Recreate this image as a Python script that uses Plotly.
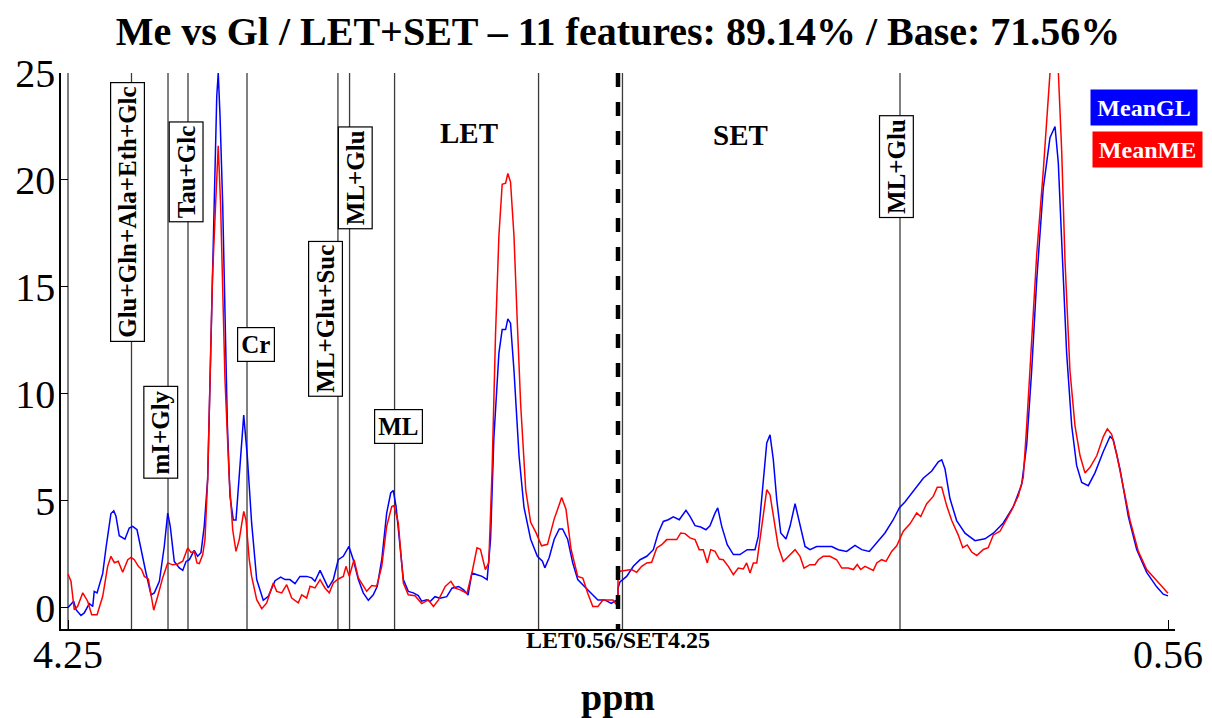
import plotly.graph_objects as go

# ---------------- data ----------------
PPM_START, PPM_END = 4.25, 0.56

LET_PPM_GL = [4.250, 4.212, 4.196, 4.163, 4.141, 4.107, 4.084, 4.074, 4.055, 4.017, 3.995, 3.962, 3.943, 3.928,
              3.906, 3.868, 3.839, 3.816, 3.787, 3.760, 3.727, 3.693, 3.671, 3.637, 3.604, 3.581, 3.564, 3.537,
              3.503, 3.480, 3.458, 3.436, 3.403, 3.380, 3.358, 3.336, 3.313, 3.297, 3.275, 3.252, 3.242, 3.230,
              3.212, 3.197, 3.181, 3.163, 3.141, 3.123, 3.101, 3.071, 3.047, 3.018, 2.984, 2.940, 2.906, 2.861,
              2.823, 2.794, 2.761, 2.727, 2.694, 2.649, 2.615, 2.593, 2.559, 2.537, 2.504, 2.470, 2.437, 2.403,
              2.365, 2.336, 2.302, 2.269, 2.235, 2.202, 2.175, 2.145, 2.112, 2.085, 2.068, 2.049, 2.027, 2.000,
              1.967, 1.933, 1.900, 1.877, 1.843, 1.821, 1.788, 1.754, 1.709, 1.674, 1.629, 1.596, 1.566, 1.540,
              1.506, 1.472, 1.438, 1.415, 1.393, 1.359, 1.337, 1.314, 1.299, 1.281, 1.258, 1.224, 1.191, 1.146,
              1.101, 1.067, 1.051, 1.022, 0.988, 0.954, 0.932, 0.898, 0.864, 0.830, 0.785, 0.740, 0.695, 0.650,
              0.605, 0.571, 0.560]
LET_GL = [0.00, 0.30, -0.10, -0.37, -0.25, 0.19, 0.06, 0.76, 0.69, 1.60, 2.80, 4.40, 4.53, 4.27,
          3.36, 3.20, 3.72, 3.80, 3.64, 2.70, 1.63, 0.60, 0.69, 1.23, 2.87, 4.42, 3.80, 2.16,
          1.86, 1.74, 2.16, 2.24, 2.68, 2.40, 2.57, 3.80, 6.00, 10.60, 17.00, 23.90, 25.00, 23.00,
          18.80, 13.70, 8.60, 5.20, 4.10, 4.10, 6.00, 9.00, 7.07, 3.96, 1.31, 0.34, 0.53, 1.26,
          1.43, 1.31, 1.31, 1.12, 1.46, 1.46, 1.39, 1.23, 1.74, 1.39, 0.92, 1.31, 2.24, 2.40,
          2.86, 2.24, 1.31, 0.69, 0.34, 0.60, 1.00, 2.24, 4.42, 5.36, 5.48, 4.73, 3.18, 1.31,
          0.76, 0.69, 0.56, 0.30, 0.37, 0.28, 0.51, 0.44, 0.51, 0.91, 0.99, 0.83, 0.59, 1.62,
          1.54, 1.46, 1.31, 3.20, 7.90, 11.90, 13.00, 13.00, 13.50, 13.30, 11.10, 7.10, 4.70, 3.20,
          2.40, 2.17, 1.86, 2.33, 3.20, 3.68, 3.68, 3.20, 2.09, 1.31, 0.99, 0.67, 0.36, 0.36,
          0.20, 0.35, -0.05]

LET_PPM_ME = [4.250, 4.230, 4.208, 4.185, 4.151, 4.118, 4.091, 4.055, 4.017, 3.984, 3.962, 3.939, 3.913, 3.883,
              3.849, 3.827, 3.805, 3.778, 3.756, 3.738, 3.711, 3.693, 3.675, 3.648, 3.615, 3.581, 3.548, 3.514,
              3.480, 3.447, 3.425, 3.403, 3.385, 3.369, 3.346, 3.331, 3.313, 3.297, 3.281, 3.260, 3.242, 3.226,
              3.197, 3.168, 3.145, 3.123, 3.101, 3.071, 3.056, 3.034, 3.018, 2.984, 2.950, 2.917, 2.873, 2.850,
              2.816, 2.783, 2.749, 2.705, 2.682, 2.649, 2.626, 2.593, 2.559, 2.526, 2.497, 2.470, 2.437, 2.403,
              2.385, 2.363, 2.331, 2.302, 2.269, 2.246, 2.212, 2.179, 2.145, 2.112, 2.078, 2.063, 2.034, 2.000,
              1.967, 1.922, 1.877, 1.832, 1.798, 1.764, 1.719, 1.681, 1.652, 1.618, 1.573, 1.540, 1.506, 1.483,
              1.450, 1.427, 1.405, 1.382, 1.359, 1.337, 1.314, 1.299, 1.281, 1.258, 1.236, 1.213, 1.179, 1.146,
              1.111, 1.073, 1.033, 0.988, 0.965, 0.938, 0.909, 0.875, 0.830, 0.796, 0.763, 0.729, 0.695, 0.661,
              0.628, 0.594, 0.560]
LET_ME = [1.57, 1.23, -0.10, 0.06, 0.69, 0.30, -0.33, -0.33, 0.53, 1.93, 2.40, 2.10, 2.17, 1.65,
          2.24, 2.35, 2.24, 1.93, 1.78, 1.46, 1.34, 0.69, -0.12, 0.53, 1.39, 2.09, 2.00, 2.04,
          2.17, 2.79, 2.58, 2.63, 2.09, 2.06, 2.48, 3.18, 6.00, 10.70, 15.40, 18.80, 21.60, 18.80,
          10.70, 6.00, 3.64, 2.63, 3.18, 4.50, 4.10, 2.24, 1.46, 0.37, -0.05, 0.22, 1.15, 0.76,
          0.69, 1.07, 0.45, 0.22, 0.60, 0.45, 1.00, 0.92, 1.31, 0.92, 0.69, 1.15, 1.34, 1.46,
          1.93, 1.46, 2.24, 1.39, 1.00, 0.76, 1.03, 1.00, 1.93, 3.80, 4.73, 4.77, 3.96, 1.15,
          0.60, 0.56, 0.19, 0.36, 0.05, 0.36, 0.99, 1.23, 0.91, 0.83, 0.67, 1.62, 2.80, 2.73,
          1.78, 2.09, 6.36, 12.70, 17.40, 19.80, 19.85, 20.30, 19.90, 17.40, 13.40, 9.50, 5.50, 3.99,
          3.52, 2.89, 2.96, 4.15, 4.60, 5.15, 4.60, 2.73, 1.46, 1.38, 0.67, 0.05, 0.05, 0.36,
          0.36, 0.36, 0.05]

SET_PPM_GL = [4.250, 4.237, 4.192, 4.147, 4.102, 4.057, 4.013, 3.980, 3.946, 3.913, 3.879, 3.839, 3.794, 3.767,
              3.733, 3.695, 3.660, 3.633, 3.599, 3.581, 3.554, 3.517, 3.476, 3.432, 3.383, 3.331, 3.309, 3.279,
              3.252, 3.230, 3.208, 3.185, 3.158, 3.123, 3.096, 3.062, 3.029, 2.995, 2.962, 2.917, 2.873, 2.816,
              2.772, 2.716, 2.660, 2.615, 2.564, 2.514, 2.459, 2.403, 2.363, 2.325, 2.269, 2.202, 2.145, 2.101,
              2.078, 2.056, 2.023, 1.978, 1.922, 1.855, 1.788, 1.732, 1.665, 1.598, 1.542, 1.508, 1.475, 1.441,
              1.397, 1.352, 1.318, 1.296, 1.273, 1.240, 1.206, 1.173, 1.139, 1.095, 1.050, 0.994, 0.949, 0.927,
              0.882, 0.826, 0.770, 0.703, 0.636, 0.592, 0.560]
SET_GL = [0.90, 1.20, 1.46, 1.93, 2.24, 2.40, 2.71, 3.49, 4.03, 4.11, 4.24, 4.11, 4.55, 4.27,
          3.83, 3.77, 3.64, 3.83, 4.42, 4.66, 3.80, 2.94, 2.48, 2.48, 2.71, 2.71, 3.33, 5.83,
          7.70, 8.08, 6.92, 5.05, 3.49, 3.21, 3.80, 4.86, 3.80, 2.86, 2.71, 2.86, 2.86, 2.86,
          2.71, 2.63, 2.91, 2.71, 2.63, 3.02, 3.49, 4.11, 4.66, 4.94, 5.45, 6.05, 6.39, 6.82,
          6.91, 6.48, 5.10, 4.07, 3.48, 3.13, 3.22, 3.48, 3.96, 4.72, 5.74, 7.62, 11.04, 15.30,
          19.60, 21.97, 22.50, 20.80, 17.10, 11.90, 8.50, 6.65, 5.85, 5.70, 6.30, 7.30, 8.00, 7.85,
          6.48, 4.26, 2.72, 1.65, 0.97, 0.63, 0.55]

SET_PPM_ME = [4.250, 4.237, 4.192, 4.158, 4.125, 4.091, 4.057, 4.024, 3.990, 3.957, 3.923, 3.890, 3.856, 3.829,
              3.800, 3.767, 3.733, 3.705, 3.678, 3.651, 3.628, 3.599, 3.570, 3.544, 3.510, 3.476, 3.443, 3.409,
              3.387, 3.364, 3.342, 3.319, 3.286, 3.252, 3.230, 3.208, 3.175, 3.141, 3.107, 3.062, 3.029, 3.002,
              2.962, 2.928, 2.906, 2.873, 2.828, 2.783, 2.749, 2.705, 2.671, 2.645, 2.622, 2.593, 2.537, 2.514,
              2.481, 2.452, 2.414, 2.380, 2.336, 2.291, 2.246, 2.219, 2.179, 2.135, 2.108, 2.078, 2.045, 2.011,
              1.967, 1.937, 1.907, 1.877, 1.843, 1.799, 1.766, 1.732, 1.687, 1.654, 1.609, 1.564, 1.531, 1.508,
              1.475, 1.441, 1.397, 1.363, 1.332, 1.296, 1.273, 1.251, 1.218, 1.184, 1.150, 1.117, 1.083, 1.038,
              0.994, 0.967, 0.938, 0.904, 0.860, 0.815, 0.759, 0.703, 0.647, 0.602, 0.560]
SET_ME = [1.50, 1.70, 1.74, 1.78, 1.65, 1.93, 2.09, 2.12, 2.79, 2.94, 3.18, 3.18, 3.18, 3.49,
          3.46, 3.26, 3.18, 2.71, 2.71, 2.09, 2.71, 2.63, 2.27, 2.24, 1.93, 1.54, 1.85, 1.81,
          2.09, 1.62, 2.09, 2.09, 3.80, 5.51, 5.28, 4.27, 2.86, 2.16, 2.40, 2.71, 2.40, 1.85,
          2.01, 2.01, 2.24, 2.40, 2.40, 2.24, 1.85, 1.85, 1.78, 2.01, 1.78, 1.93, 1.74, 2.09,
          2.24, 2.16, 2.63, 2.89, 3.57, 3.92, 4.43, 4.26, 4.86, 5.20, 5.63, 5.63, 4.77, 4.07,
          3.39, 2.80, 2.93, 2.60, 2.44, 2.72, 2.80, 3.40, 3.57, 3.96, 4.56, 5.23, 6.09, 8.50,
          12.75, 16.50, 20.40, 23.80, 27.00, 25.10, 21.30, 16.20, 11.10, 8.50, 7.10, 6.30, 6.56, 7.10,
          8.00, 8.36, 8.10, 7.16, 5.63, 4.09, 2.63, 1.78, 1.35, 1.01, 0.67]

FEATURE_SECTION = ["LET", "LET", "LET", "LET", "LET", "LET", "LET", "LET", "LET", "SET", "SET"]
FEATURE_PPM = [4.25, 3.824, 3.579, 3.445, 3.049, 2.439, 2.361, 2.059, 1.093, 4.220, 2.358]
FEATURE_LABEL = ["", "Glu+Gln+Ala+Eth+Glc", "mI+Gly", "Tau+Glc", "Cr", "ML+Glu+Suc", "ML+Glu", "ML", "", "", "ML+Glu"]

SERIES_NAMES = ["MeanGL", "MeanME"]
SERIES_COLORS = ["#0000FF", "#FF0000"]

TITLE = "Me vs Gl / LET+SET \u2013 11 features: 89.14% / Base: 71.56%"
X_TICK_TEXT = ["4.25", "LET0.56/SET4.25", "0.56"]
Y_TICKS = [0, 5, 10, 15, 20, 25]

# ---------------- styling / layout parameters ----------------
# label placement: (y centre in data units, x shift px, rotated?)
LABEL_STYLE = {
    "Glu+Gln+Ala+Eth+Glc": (18.5, -4.5, True),
    "mI+Gly": (8.2, -7.5, True),
    "Tau+Glc": (20.4, -2, True),
    "Cr": (12.3, 9, False),
    "ML+Glu+Suc": (13.5, -12, True),
    "ML+Glu": (20.1, 6, True),
    "ML": (8.45, 3.5, False),
}
SET_LABEL_STYLE = {"ML+Glu": (20.6, -4, True)}

FONT = "Liberation Serif, Times New Roman, serif"
SPAN = PPM_START - PPM_END

# page geometry (the html body adds an 8px margin around the figure)
W, H = 1212, 718
OFF = 8
PLOT_L, PLOT_R, PLOT_T, PLOT_B = 61, 1175, 73, 629   # wanted plot box in window pixels
PW, PH = PLOT_R - PLOT_L, PLOT_B - PLOT_T


def to_axis(section, ppm):
    off = 0.0 if section == "LET" else 1.0
    return [off + (PPM_START - p) / SPAN for p in ppm]


def px_to_paper(xw, yw):
    return (xw - PLOT_L) / PW, (PLOT_B - yw) / PH


gl_x = to_axis("LET", LET_PPM_GL) + to_axis("SET", SET_PPM_GL)
gl_y = LET_GL + SET_GL
me_x = to_axis("LET", LET_PPM_ME) + to_axis("SET", SET_PPM_ME)
me_y = LET_ME + SET_ME

fig = go.Figure()
fig.add_trace(go.Scatter(x=gl_x, y=gl_y, mode="lines", name=SERIES_NAMES[0],
                         line=dict(color=SERIES_COLORS[0], width=1.5)))
fig.add_trace(go.Scatter(x=me_x, y=me_y, mode="lines", name=SERIES_NAMES[1],
                         line=dict(color=SERIES_COLORS[1], width=1.5)))

shapes = []
annotations = []
for sec, p, lab in zip(FEATURE_SECTION, FEATURE_PPM, FEATURE_LABEL):
    xv = to_axis(sec, [p])[0]
    shapes.append(dict(type="line", xref="x", yref="paper", x0=xv, x1=xv, y0=0, y1=1,
                       line=dict(color="#3c3c3c", width=1.3), layer="below"))
    if lab:
        style = (SET_LABEL_STYLE if sec == "SET" else LABEL_STYLE)[lab]
        yc, xs, rot = style
        annotations.append(dict(x=xv, y=yc, xref="x", yref="y", text="<b>%s</b>" % lab,
                                showarrow=False, xshift=xs, textangle=-90 if rot else 0,
                                font=dict(family=FONT, size=25, color="black"),
                                bgcolor="white", bordercolor="black", borderwidth=1.2, borderpad=3,
                                xanchor="center", yanchor="middle"))

# LET / SET separator
shapes.append(dict(type="line", xref="x", yref="paper", x0=1, x1=1, y0=1, y1=0,
                   line=dict(color="black", width=4.5, dash="14px,15px"), layer="above"))

# section titles
for txt, (xw, yw) in (("LET", (469, 133)), ("SET", (740, 135))):
    xp, yp = px_to_paper(xw, yw)
    annotations.append(dict(x=xp, y=yp, xref="paper", yref="paper", text="<b>%s</b>" % txt,
                            xanchor="center", yanchor="middle",
                            showarrow=False, font=dict(family=FONT, size=29, color="black")))

# legend boxes
for name, col, (xw, yw), wd in ((SERIES_NAMES[0], SERIES_COLORS[0], (1144, 107.5), 100),
                                (SERIES_NAMES[1], SERIES_COLORS[1], (1147.5, 149), 103)):
    xp, yp = px_to_paper(xw, yw)
    annotations.append(dict(x=xp, y=yp, xref="paper", yref="paper", text="<b>%s</b>" % name,
                            xanchor="center", yanchor="middle",
                            showarrow=False, font=dict(family=FONT, size=24, color="white"),
                            bgcolor=col, borderpad=3, width=wd, height=29))

# middle tick label and axis title
annotations.append(dict(x=1, y=0, xref="x", yref="paper", text="<b>%s</b>" % X_TICK_TEXT[1], showarrow=False,
                        xanchor="center", yanchor="middle", yshift=-11,
                        font=dict(family=FONT, size=24, color="black")))
annotations.append(dict(x=0.5, y=0, xref="paper", yref="paper", text="<b>ppm</b>", showarrow=False,
                        xanchor="center", yanchor="middle", yshift=-68,
                        font=dict(family=FONT, size=38, color="black")))

pad = 7 / 550
fig.update_layout(
    width=W, height=H,
    margin=dict(l=PLOT_L - OFF, r=W - (PLOT_R - OFF), t=PLOT_T - OFF, b=H - (PLOT_B - OFF), pad=0,
                autoexpand=False),
    paper_bgcolor="white", plot_bgcolor="white",
    showlegend=False,
    title=dict(text="<b>%s</b>" % TITLE, x=0.5, xref="paper", y=1 - (31 - OFF) / H, yref="container",
               xanchor="center", yanchor="middle", font=dict(family=FONT, size=40, color="black")),
    xaxis=dict(range=[-pad, 2 + pad], tickvals=[0, 2], ticktext=[X_TICK_TEXT[0], X_TICK_TEXT[2]],
               ticks="inside", ticklen=9, tickcolor="black", tickwidth=1.2, ticklabelstandoff=-11,
               showline=True, linecolor="black", linewidth=1.6, showgrid=False, zeroline=False,
               tickfont=dict(family=FONT, size=40, color="black")),
    yaxis=dict(range=[-1, 25], tickvals=Y_TICKS, ticks="inside", ticklen=7, tickcolor="black", tickwidth=1.2,
               ticklabelstandoff=-4,
               showline=True, linecolor="black", linewidth=1.6, showgrid=False, zeroline=False,
               tickfont=dict(family=FONT, size=40, color="black")),
    shapes=shapes, annotations=annotations,
)

fig.write_html("out.html")
